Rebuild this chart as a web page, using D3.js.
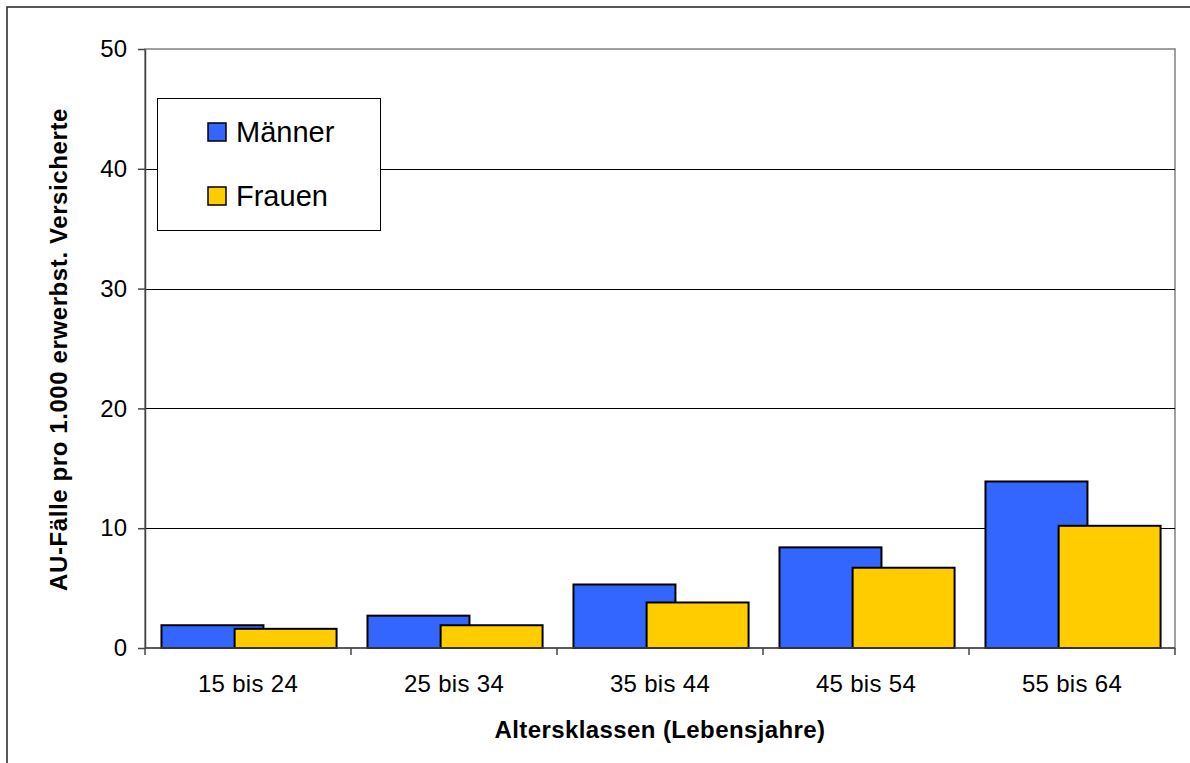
<!DOCTYPE html>
<html>
<head>
<meta charset="utf-8">
<script src="https://cdn.jsdelivr.net/npm/d3@7"></script>
<style>
    body { margin: 0; background: #fff; }
    text { font-family: "Liberation Sans", Arial, sans-serif; fill: #000; }
</style>
</head>
<body>
<script>

//chart data
var categories = ["15 bis 24", "25 bis 34", "35 bis 44", "45 bis 54", "55 bis 64"];
var maenner = [1.9, 2.7, 5.3, 8.4, 13.9];
var frauen = [1.6, 1.9, 3.8, 6.7, 10.2];
var seriesNames = ["Männer", "Frauen"];
var seriesColors = ["#3366FF", "#FFCC00"];
var yTicks = [0, 10, 20, 30, 40, 50];

//SVG dimension variables
var w = 1190, h = 763;
var plot = {left: 145, right: 1175, top: 49, bottom: 648};

window.onload = function(){

    var svg = d3.select("body")
        .append("svg")
        .attr("width", w)
        .attr("height", h);

    //outer chart border (right and bottom edges fall outside the picture)
    svg.append("rect")
        .attr("x", 7)
        .attr("y", 7)
        .attr("width", w)
        .attr("height", h)
        .style("fill", "#fff")
        .style("stroke", "#222")
        .style("stroke-width", 1.5);

    //scales
    var x = d3.scaleBand()
        .domain(categories)
        .range([plot.left, plot.right])
        .padding(0);

    var y = d3.scaleLinear()
        .domain([0, 50])
        .range([plot.bottom, plot.top]);

    //plot area frame
    svg.append("rect")
        .attr("x", plot.left)
        .attr("y", plot.top)
        .attr("width", plot.right - plot.left)
        .attr("height", plot.bottom - plot.top)
        .style("fill", "#fff")
        .style("stroke", "#808080")
        .style("stroke-width", 1.5);

    //horizontal gridlines
    svg.selectAll(".grid")
        .data(yTicks.filter(function(d){ return d > 0 && d < 50; }))
        .enter()
        .append("line")
        .attr("class", "grid")
        .attr("x1", plot.left)
        .attr("x2", plot.right)
        .attr("y1", function(d){ return Math.round(y(d)) + 0.5; })
        .attr("y2", function(d){ return Math.round(y(d)) + 0.5; })
        .style("stroke", "#000")
        .style("stroke-width", 1);

    //bar geometry inside each band
    var bw = x.bandwidth();
    var barW = bw * 0.495;
    var startOff = bw * 0.08;
    var frauenOff = bw * 0.355;

    //Männer bars (behind)
    svg.selectAll(".barM")
        .data(maenner)
        .enter()
        .append("rect")
        .attr("class", "barM")
        .attr("x", function(d, i){ return x(categories[i]) + startOff; })
        .attr("y", function(d){ return y(d); })
        .attr("width", barW)
        .attr("height", function(d){ return y(0) - y(d); })
        .style("fill", seriesColors[0])
        .style("stroke", "#000")
        .style("stroke-width", 2);

    //Frauen bars (in front)
    svg.selectAll(".barF")
        .data(frauen)
        .enter()
        .append("rect")
        .attr("class", "barF")
        .attr("x", function(d, i){ return x(categories[i]) + startOff + frauenOff; })
        .attr("y", function(d){ return y(d); })
        .attr("width", barW)
        .attr("height", function(d){ return y(0) - y(d); })
        .style("fill", seriesColors[1])
        .style("stroke", "#000")
        .style("stroke-width", 2);

    //y axis
    var yAxis = svg.append("g")
        .attr("class", "yAxis")
        .attr("transform", "translate(" + plot.left + ",0)")
        .call(d3.axisLeft(y).tickValues(yTicks).tickSize(7).tickPadding(11).tickSizeOuter(0));
    yAxis.select(".domain").style("stroke", "#444").style("stroke-width", 1.5);
    yAxis.selectAll(".tick line").style("stroke", "#444").style("stroke-width", 1.5);
    yAxis.selectAll(".tick text")
        .style("font-size", "24px")
        .style("font-family", "'Liberation Sans', Arial, sans-serif")
        .attr("fill", "#000");

    //x axis line
    svg.append("line")
        .attr("x1", plot.left)
        .attr("x2", plot.right)
        .attr("y1", plot.bottom)
        .attr("y2", plot.bottom)
        .style("stroke", "#444")
        .style("stroke-width", 1.5);

    //x axis ticks on band edges
    var edges = categories.map(function(c){ return x(c); }).concat([x.range()[1]]);
    svg.selectAll(".xTick")
        .data(edges)
        .enter()
        .append("line")
        .attr("class", "xTick")
        .attr("x1", function(d){ return d; })
        .attr("x2", function(d){ return d; })
        .attr("y1", plot.bottom)
        .attr("y2", plot.bottom + 7)
        .style("stroke", "#444")
        .style("stroke-width", 1.5);

    //x axis labels
    svg.selectAll(".xLabel")
        .data(categories)
        .enter()
        .append("text")
        .attr("class", "xLabel")
        .attr("x", function(d){ return x(d) + bw / 2; })
        .attr("y", 692)
        .attr("text-anchor", "middle")
        .style("font-size", "24px")
        .style("letter-spacing", "0.3px")
        .text(function(d){ return d; });

    //axis titles
    svg.append("text")
        .attr("x", (plot.left + plot.right) / 2)
        .attr("y", 738)
        .attr("text-anchor", "middle")
        .style("font-size", "24px")
        .style("font-weight", "bold")
        .style("letter-spacing", "0.4px")
        .text("Altersklassen (Lebensjahre)");

    svg.append("text")
        .attr("transform", "translate(67," + ((plot.top + plot.bottom) / 2 + 1) + ") rotate(-90)")
        .attr("text-anchor", "middle")
        .style("font-size", "24px")
        .style("font-weight", "bold")
        .style("letter-spacing", "0.6px")
        .text("AU-Fälle pro 1.000 erwerbst. Versicherte");

    //legend
    var legend = svg.append("g").attr("class", "legend");
    legend.append("rect")
        .attr("x", 157.5)
        .attr("y", 98.5)
        .attr("width", 223)
        .attr("height", 132)
        .style("fill", "#fff")
        .style("stroke", "#000")
        .style("stroke-width", 1);

    var items = legend.selectAll(".item")
        .data(seriesNames)
        .enter()
        .append("g")
        .attr("class", "item")
        .attr("transform", function(d, i){ return "translate(0," + (i * 64) + ")"; });

    items.append("rect")
        .attr("x", 208)
        .attr("y", 123)
        .attr("width", 18)
        .attr("height", 18)
        .style("fill", function(d, i){ return seriesColors[i]; })
        .style("stroke", "#000")
        .style("stroke-width", 1.5);

    items.append("text")
        .attr("x", 236)
        .attr("y", 142)
        .style("font-size", "29px")
        .text(function(d){ return d; });
};

</script>
</body>
</html>
